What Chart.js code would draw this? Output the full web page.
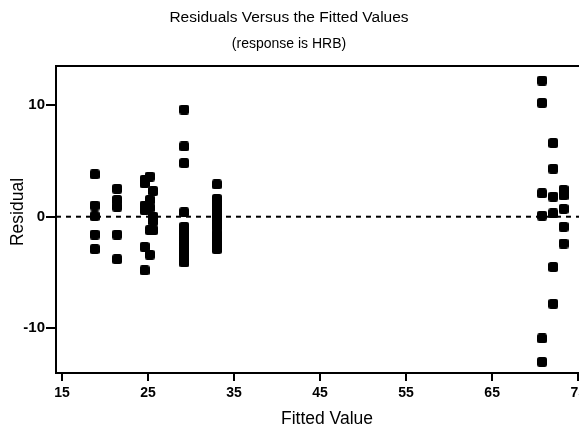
<!DOCTYPE html>
<html>
<head>
<meta charset="utf-8">
<title>Residuals Versus the Fitted Values</title>
<script src="https://cdn.jsdelivr.net/npm/chart.js@4.4.1/dist/chart.umd.min.js"></script>
<style>
  html, body { margin: 0; padding: 0; background: #fff; overflow: hidden; }
  #wrap { width: 579px; height: 432px; overflow: hidden; }
</style>
</head>
<body>
<div id="wrap"><canvas id="residualChart" width="620" height="432"></canvas></div>
<script>
// ============================================
// Residuals vs fitted values - HRB model
// ============================================

// Fitted value of each observation (one column per fitted level)
const fittedValues = [
    18.8, 18.8, 18.8, 18.8, 18.8,
    21.4, 21.4, 21.4, 21.4, 21.4,
    24.6, 24.6, 24.6, 24.6, 24.6, 24.6,
    25.2, 25.2, 25.2, 25.2, 25.2,
    25.6, 25.6, 25.6, 25.6,
    29.2, 29.2, 29.2, 29.2, 29.2, 29.2, 29.2, 29.2, 29.2, 29.2, 29.2, 29.2,
    33.0, 33.0, 33.0, 33.0, 33.0, 33.0, 33.0, 33.0, 33.0, 33.0, 33.0,
    70.8, 70.8, 70.8, 70.8, 70.8, 70.8,
    72.1, 72.1, 72.1, 72.1, 72.1, 72.1,
    73.3, 73.3, 73.3, 73.3, 73.3
];

// Residual for the same observations
const residuals = [
    3.8, 1.0, 0.05, -1.6, -2.9,
    2.5, 1.5, 0.9, -1.6, -3.8,
    3.3, 3.0, 1.0, 0.6, -2.7, -4.8,
    3.6, 1.5, 0.8, -1.2, -3.4,
    2.3, 0.0, -0.4, -1.2,
    9.6, 6.3, 4.8, 0.4, -0.9, -1.4, -1.9, -2.4, -2.9, -3.3, -3.7, -4.1,
    2.9, 1.6, 1.1, 0.6, 0.1, -0.4, -0.9, -1.5, -2.0, -2.5, -2.9,
    12.2, 10.2, 2.1, 0.1, -10.9, -13.0,
    6.6, 4.3, 1.8, 0.3, -4.5, -7.8,
    2.4, 1.9, 0.7, -0.9, -2.4
];

const xTicks = [15, 25, 35, 45, 55, 65, 75];
const yTicks = [-10, 0, 10];

const titleText = 'Residuals Versus the Fitted Values';
const subtitleText = '(response is HRB)';
const xTitle = 'Fitted Value';
const yTitle = 'Residual';

const FONT = "'Liberation Sans', Arial, Helvetica, sans-serif";

// Small filled square with slightly rounded corners, used as the marker
function makeMarker(size, r) {
    const c = document.createElement('canvas');
    c.width = size;
    c.height = size;
    const g = c.getContext('2d');
    g.fillStyle = '#000';
    g.beginPath();
    g.roundRect(0, 0, size, size, r);
    g.fill();
    return c;
}

// Zero reference line, top frame edge, titles and axis titles
const residualDecor = {
    id: 'residualDecor',
    beforeDatasetsDraw(chart) {
        const { ctx, chartArea, scales } = chart;
        const y0 = scales.y.getPixelForValue(0);
        ctx.save();
        ctx.strokeStyle = '#000';
        ctx.lineWidth = 2;
        ctx.setLineDash([5, 5]);
        ctx.beginPath();
        ctx.moveTo(chartArea.left, y0);
        ctx.lineTo(chartArea.right, y0);
        ctx.stroke();
        ctx.setLineDash([]);
        ctx.beginPath();
        ctx.moveTo(chartArea.left - 1, chartArea.top);
        ctx.lineTo(chartArea.right, chartArea.top);
        ctx.stroke();
        ctx.restore();
    },
    afterDraw(chart) {
        const { ctx } = chart;
        ctx.save();
        ctx.fillStyle = '#000';
        ctx.textAlign = 'center';
        ctx.textBaseline = 'middle';
        ctx.font = '15.5px ' + FONT;
        ctx.fillText(titleText, 289, 17.5);
        ctx.font = '14px ' + FONT;
        ctx.fillText(subtitleText, 289, 44);
        ctx.font = '17.5px ' + FONT;
        ctx.fillText(xTitle, 327, 419);
        ctx.translate(18, 212);
        ctx.rotate(-Math.PI / 2);
        ctx.fillText(yTitle, 0, 0);
        ctx.restore();
    }
};

const points = fittedValues.map((x, i) => ({ x: x, y: residuals[i] }));

const tickFont = { family: FONT, size: 14, weight: 'bold' };

new Chart(document.getElementById('residualChart'), {
    type: 'scatter',
    data: {
        datasets: [{
            data: points,
            pointStyle: makeMarker(10, 2.5),
            pointRadius: 5,
            backgroundColor: '#000',
            borderColor: '#000'
        }]
    },
    options: {
        responsive: false,
        animation: false,
        layout: { padding: { top: 66, right: 10, left: 0, bottom: 0 } },
        plugins: {
            legend: { display: false },
            tooltip: { enabled: false }
        },
        scales: {
            x: {
                type: 'linear',
                min: 14.3,
                max: 78.7,
                afterBuildTicks: s => { s.ticks = xTicks.map(v => ({ value: v })); },
                afterFit: s => { s.height = 59; },
                grid: { drawOnChartArea: false, drawTicks: true, tickLength: 8, tickColor: '#000', lineWidth: 2 },
                border: { display: true, color: '#000', width: 2 },
                ticks: { color: '#000', font: tickFont, padding: 4, maxRotation: 0 }
            },
            y: {
                min: -14.0,
                max: 13.5,
                afterBuildTicks: s => { s.ticks = yTicks.map(v => ({ value: v })); },
                afterFit: s => { s.width = 56; },
                grid: { drawOnChartArea: false, drawTicks: true, tickLength: 10, tickColor: '#000', lineWidth: 2 },
                border: { display: true, color: '#000', width: 2 },
                ticks: { color: '#000', font: { family: FONT, size: 15, weight: 'bold' }, padding: 1 }
            }
        }
    },
    plugins: [residualDecor]
});
</script>
</body>
</html>
